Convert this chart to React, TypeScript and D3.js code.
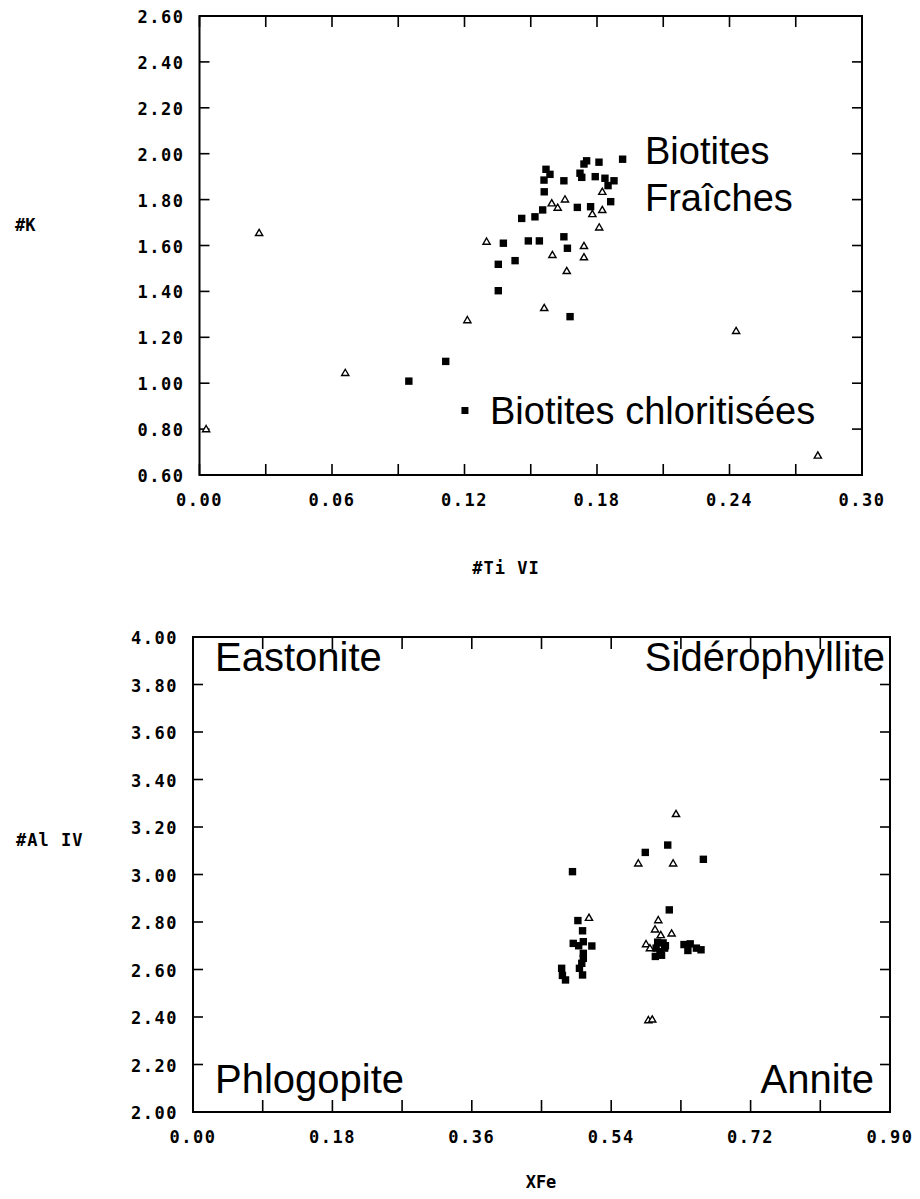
import React from 'react';
import * as d3 from 'd3';

// ---------- Top panel data (#Ti VI vs #K) ----------
const topXTicks = [0, 0.03, 0.06, 0.09, 0.12, 0.15, 0.18, 0.21, 0.24, 0.27, 0.30];
const topXLabels = [0, 0.06, 0.12, 0.18, 0.24, 0.30];
const topYTicks = [0.6, 0.8, 1.0, 1.2, 1.4, 1.6, 1.8, 2.0, 2.2, 2.4, 2.6];

const topSquares: [number, number][] = [
  [0.1916, 1.976], [0.1753, 1.969], [0.1741, 1.955], [0.1809, 1.963], [0.1569, 1.932],
  [0.1587, 1.910], [0.1560, 1.885], [0.1650, 1.882], [0.1723, 1.915], [0.1731, 1.897],
  [0.1792, 1.900], [0.1836, 1.893], [0.1877, 1.882], [0.1850, 1.861], [0.1561, 1.834],
  [0.1862, 1.791], [0.1711, 1.766], [0.1771, 1.769], [0.1554, 1.755], [0.1519, 1.725],
  [0.1459, 1.718], [0.1376, 1.610], [0.1489, 1.620], [0.1539, 1.620], [0.1650, 1.638],
  [0.1666, 1.588], [0.1353, 1.518], [0.1429, 1.534], [0.1353, 1.403], [0.1678, 1.290],
  [0.0948, 1.009], [0.1115, 1.095],
];

const topTriangles: [number, number][] = [
  [0.003, 0.80], [0.027, 1.655], [0.066, 1.045], [0.1213, 1.275], [0.130, 1.617],
  [0.1561, 1.328], [0.1598, 1.559], [0.1663, 1.489], [0.1741, 1.598], [0.1741, 1.549],
  [0.1595, 1.784], [0.1622, 1.765], [0.1655, 1.801], [0.1779, 1.737], [0.1810, 1.679],
  [0.1824, 1.755], [0.1824, 1.834], [0.243, 1.228], [0.280, 0.685],
];

const topLegendSquare: [number, number] = [0.1202, 0.881];

// ---------- Bottom panel data (XFe vs #Al IV) ----------
const botXTicks = [0, 0.09, 0.18, 0.27, 0.36, 0.45, 0.54, 0.63, 0.72, 0.81, 0.90];
const botXLabels = [0, 0.18, 0.36, 0.54, 0.72, 0.90];
const botYTicks = [2.0, 2.2, 2.4, 2.6, 2.8, 3.0, 3.2, 3.4, 3.6, 3.8, 4.0];

const botSquares: [number, number][] = [
  [0.490, 3.012], [0.497, 2.806], [0.503, 2.763], [0.491, 2.710], [0.504, 2.717],
  [0.515, 2.699], [0.498, 2.700], [0.504, 2.668], [0.504, 2.647], [0.502, 2.626],
  [0.499, 2.605], [0.503, 2.577], [0.476, 2.605], [0.477, 2.575], [0.481, 2.556],
  [0.584, 3.093], [0.613, 3.124], [0.659, 3.064], [0.615, 2.851], [0.600, 2.715],
  [0.607, 2.712], [0.598, 2.690], [0.603, 2.675], [0.609, 2.690], [0.597, 2.655],
  [0.605, 2.660], [0.610, 2.700], [0.634, 2.705], [0.642, 2.708], [0.639, 2.680],
  [0.656, 2.683], [0.650, 2.690],
];

const botTriangles: [number, number][] = [
  [0.6237, 3.255], [0.575, 3.047], [0.620, 3.047], [0.5113, 2.818], [0.6008, 2.808],
  [0.5966, 2.769], [0.604, 2.745], [0.618, 2.752], [0.585, 2.707], [0.590, 2.690],
  [0.588, 2.387], [0.593, 2.390],
];

const monoFont = "'DejaVu Sans Mono', monospace";
const sansFont = "'Liberation Sans', Arial, sans-serif";

type PanelProps = {
  xDomain: [number, number];
  yDomain: [number, number];
  xRange: [number, number];
  yRange: [number, number];
  xTicks: number[];
  xLabels: number[];
  yTicks: number[];
  squares: [number, number][];
  triangles: [number, number][];
  tickLen: number;
  children?: (x: d3.ScaleLinear<number, number>, y: d3.ScaleLinear<number, number>) => React.ReactNode;
};

const SQ = 7.4;
const trianglePath = (cx: number, cy: number) =>
  `M${cx},${cy - 3.6}L${cx + 3.6},${cy + 2.6}L${cx - 3.6},${cy + 2.6}Z`;

function Panel(p: PanelProps) {
  const x = d3.scaleLinear().domain(p.xDomain).range(p.xRange);
  const y = d3.scaleLinear().domain(p.yDomain).range(p.yRange);
  const [x0, x1] = p.xRange;
  const [yb, yt] = p.yRange;
  const fmt = d3.format('.2f');
  return (
    <g>
      {/* frame */}
      <rect x={x0} y={yt} width={x1 - x0} height={yb - yt} fill="none" stroke="#000" strokeWidth={2} />
      {/* x ticks bottom & top */}
      {p.xTicks.map((t, i) => (
        <g key={'xt' + i}>
          <line x1={x(t)} x2={x(t)} y1={yb} y2={yb - p.tickLen} stroke="#000" strokeWidth={1.6} />
          <line x1={x(t)} x2={x(t)} y1={yt} y2={yt + p.tickLen} stroke="#000" strokeWidth={1.6} />
        </g>
      ))}
      {/* y ticks left & right */}
      {p.yTicks.map((t, i) => (
        <g key={'yt' + i}>
          <line x1={x0} x2={x0 + 10} y1={y(t)} y2={y(t)} stroke="#000" strokeWidth={1.6} />
          <line x1={x1} x2={x1 - 10} y1={y(t)} y2={y(t)} stroke="#000" strokeWidth={1.6} />
        </g>
      ))}
      {/* x labels */}
      {p.xLabels.map((t, i) => (
        <text key={'xl' + i} x={x(t)} y={yb + 31} textAnchor="middle" fontFamily={monoFont}
          fontWeight="bold" fontSize={17} letterSpacing={1.5}>{fmt(t)}</text>
      ))}
      {/* y labels */}
      {p.yTicks.map((t, i) => (
        <text key={'yl' + i} x={x0 - 15} y={y(t) + 7} textAnchor="end" fontFamily={monoFont}
          fontWeight="bold" fontSize={17} letterSpacing={1.5}>{fmt(t)}</text>
      ))}
      {/* squares */}
      {p.squares.map((d, i) => (
        <rect key={'s' + i} x={x(d[0]) - SQ / 2} y={y(d[1]) - SQ / 2} width={SQ} height={SQ} fill="#000" />
      ))}
      {/* triangles */}
      {p.triangles.map((d, i) => (
        <path key={'t' + i} d={trianglePath(x(d[0]), y(d[1]))} fill="#fff" stroke="#000" strokeWidth={1.4} />
      ))}
      {p.children ? p.children(x, y) : null}
    </g>
  );
}

export default function App() {
  return (
    <svg width={920} height={1199} style={{ position: 'absolute', left: 0, top: 0, background: '#fff' }}>
      <rect x={0} y={0} width={920} height={1199} fill="#fff" />
      <Panel
        xDomain={[0, 0.3]} yDomain={[0.6, 2.6]}
        xRange={[199.5, 862]} yRange={[475, 16]}
        xTicks={topXTicks} xLabels={topXLabels} yTicks={topYTicks}
        squares={topSquares} triangles={topTriangles} tickLen={11}
      >
        {(x, y) => (
          <g>
            <rect x={x(topLegendSquare[0]) - 3.5} y={y(topLegendSquare[1]) - 3.5} width={7} height={7} fill="#000" />
            <text x={645} y={163.5} fontFamily={sansFont} fontSize={38}>Biotites</text>
            <text x={645} y={210.5} fontFamily={sansFont} fontSize={38}>Fraîches</text>
            <text x={490} y={423.6} fontFamily={sansFont} fontSize={38}>Biotites chloritisées</text>
          </g>
        )}
      </Panel>
      <text x={15} y={231} fontFamily={monoFont} fontWeight="bold" fontSize={17}>#K</text>
      <text x={506} y={574} textAnchor="middle" fontFamily={monoFont} fontWeight="bold" fontSize={17} letterSpacing={1}>#Ti VI</text>

      <Panel
        xDomain={[0, 0.9]} yDomain={[2, 4]}
        xRange={[193, 890]} yRange={[1112, 637]}
        xTicks={botXTicks} xLabels={botXLabels} yTicks={botYTicks}
        squares={botSquares} triangles={botTriangles} tickLen={12}
      >
        {() => (
          <g>
            <text x={215} y={671} fontFamily={sansFont} fontSize={40}>Eastonite</text>
            <text x={885} y={671} textAnchor="end" fontFamily={sansFont} fontSize={40}>Sidérophyllite</text>
            <text x={215} y={1093} fontFamily={sansFont} fontSize={40}>Phlogopite</text>
            <text x={874} y={1093} textAnchor="end" fontFamily={sansFont} fontSize={40}>Annite</text>
          </g>
        )}
      </Panel>
      <text x={16} y={846} fontFamily={monoFont} fontWeight="bold" fontSize={17} letterSpacing={1}>#Al IV</text>
      <text x={541} y={1188} textAnchor="middle" fontFamily={monoFont} fontWeight="bold" fontSize={17}>XFe</text>
    </svg>
  );
}
